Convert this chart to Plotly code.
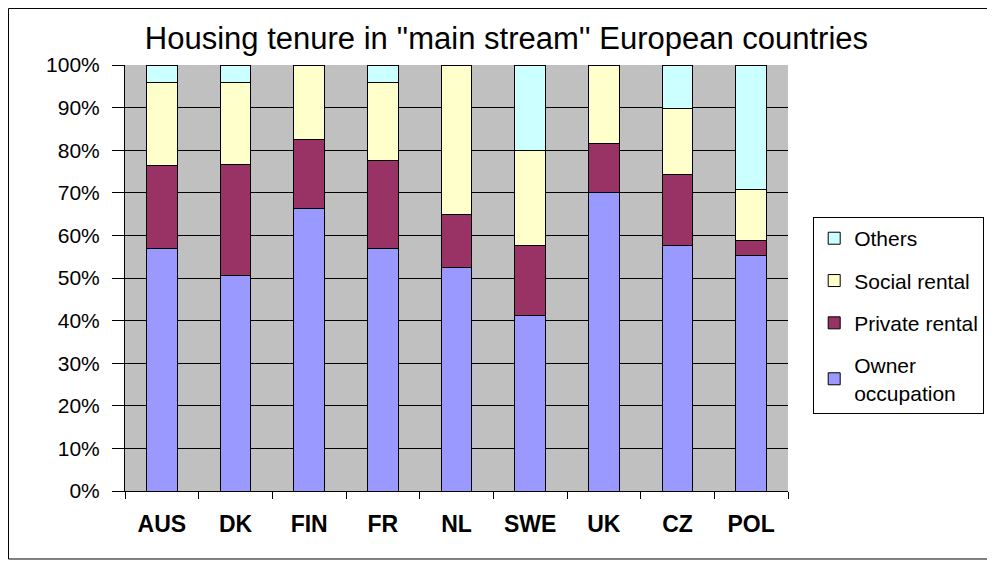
import plotly.graph_objects as go

countries = ['AUS', 'DK', 'FIN', 'FR', 'NL', 'SWE', 'UK', 'CZ', 'POL']
owner_occupation = [57.0, 50.7, 66.2, 57.0, 52.5, 41.3, 70.1, 57.6, 55.2]
private_rental = [19.4, 26.0, 16.2, 20.5, 12.3, 16.4, 11.4, 16.6, 3.5]
social_rental = [19.6, 19.1, 17.6, 18.5, 35.2, 22.3, 18.5, 15.5, 12.0]
others = [4.0, 4.2, 0.0, 4.0, 0.0, 20.0, 0.0, 10.3, 29.3]
y_ticks = [0, 10, 20, 30, 40, 50, 60, 70, 80, 90, 100]
y_tick_labels = ['0%', '10%', '20%', '30%', '40%', '50%', '60%', '70%', '80%', '90%', '100%']

# (legend name, values, colour, legend position from top)
series = [
    ('Owner<br>occupation', owner_occupation, '#9999FF', 4),
    ('Private rental', private_rental, '#993366', 3),
    ('Social rental', social_rental, '#FFFFCC', 2),
    ('Others', others, '#CCFFFF', 1),
]

fig = go.Figure()
for name, vals, color, rank in series:
    fig.add_trace(go.Bar(
        x=countries, y=vals, name=name, legendgroup=name, legendrank=rank,
        marker=dict(color=color, line=dict(color='black', width=1)),
        width=0.42,
    ))

# page body has an 8px margin, so the figure is a bit smaller than the window
fig.update_layout(
    width=987, height=553,
    margin=dict(l=117, r=207, t=57, b=70, autoexpand=False),
    barmode='stack',
    paper_bgcolor='white',
    plot_bgcolor='#C0C0C0',
    font=dict(family='Liberation Sans', color='black'),
    title=dict(text='Housing tenure in \'\'main stream\'\' European countries',
               x=0.505, xanchor='center', y=0.945, yanchor='middle',
               font=dict(size=31, color='black')),
    legend=dict(x=1.038, xanchor='left', y=0.643, yanchor='top',
                traceorder='grouped', tracegroupgap=12,
                bordercolor='black', borderwidth=1, bgcolor='white',
                font=dict(size=21)),
    showlegend=True,
)

fig.update_yaxes(
    range=[0, 100], tickvals=y_ticks, ticktext=y_tick_labels,
    showgrid=True, gridcolor='black', gridwidth=1,
    zeroline=False, showline=True, linecolor='black', linewidth=1,
    ticks='outside', ticklen=12, tickcolor='black',
    tickfont=dict(size=21), ticklabelstandoff=8,
)
fig.update_xaxes(
    showgrid=False, showline=True, linecolor='black', linewidth=1,
    ticks='outside', ticklen=7, tickcolor='black', tickson='boundaries',
    tickfont=dict(size=23, weight='bold'), ticklabelstandoff=12,
)

# outer chart border
fig.add_shape(type='rect', xref='paper', yref='paper',
              x0=-0.1757, x1=1.3107, y0=-0.1596, y1=1.1327,
              line=dict(color='black', width=1))

fig.write_html("out.html")
